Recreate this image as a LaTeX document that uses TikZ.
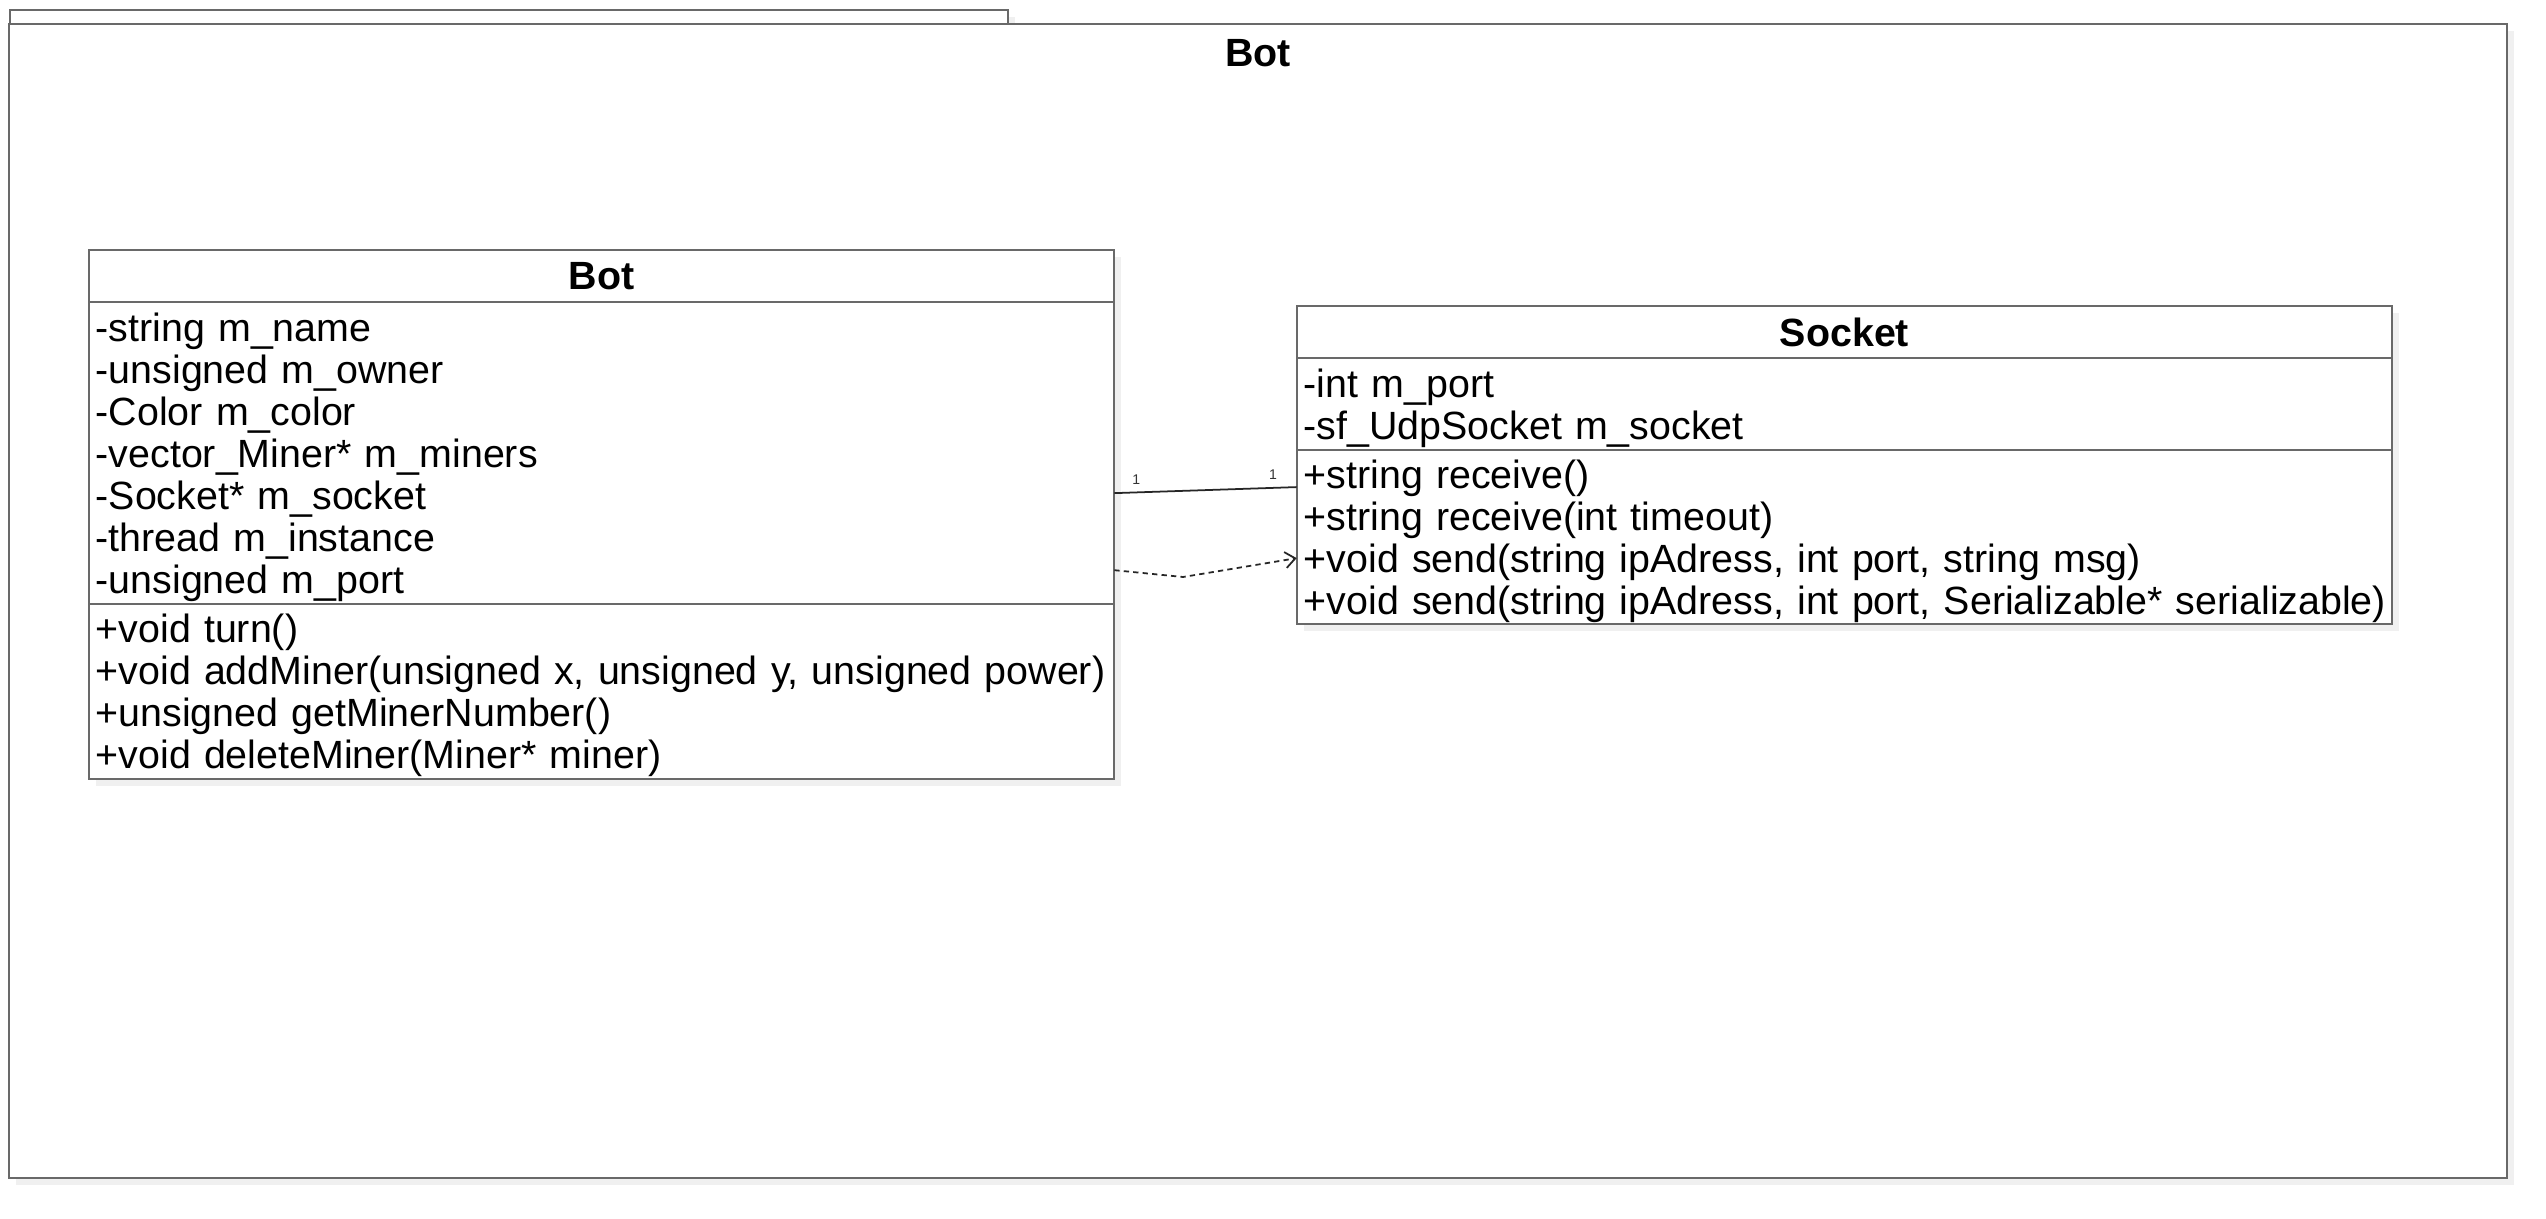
\documentclass[tikz,border=0pt]{standalone}
\usepackage{fontspec}
\setmainfont{Liberation Sans}
\usetikzlibrary{positioning,shadows,arrows.meta}
\definecolor{umlline}{RGB}{105,105,105}
\definecolor{umlshadow}{RGB}{240,240,240}
\newcommand{\longrow}[1]{\leavevmode\rlap{#1}}
\tikzset{
	boxshadow/.style={general shadow={fill=umlshadow,shadow xshift=0.07cm,shadow yshift=-0.07cm}},
	pkgpart/.style={draw=umlline,line width=0.6pt,fill=white,boxshadow,inner sep=0pt,outer sep=0pt},
	classhead/.style={draw=umlline,line width=0.6pt,fill=white,boxshadow,minimum height=0.52cm,inner sep=0pt,outer sep=0pt,font=\fontsize{11.2}{11.95}\selectfont\bfseries},
	classpart/.style={draw=umlline,line width=0.6pt,fill=white,boxshadow,inner xsep=0.07cm,inner ysep=0pt,outer sep=0pt,align=left,font=\fontsize{11.2}{11.95}\selectfont,execute at begin node={\rule{0pt}{10.4pt}}},
	mult/.style={font=\fontsize{4}{5}\selectfont,inner sep=0pt,text=black!80}
}
\begin{document}
\begin{tikzpicture}[x=0.01cm,y=-0.01cm]
	\useasboundingbox (0,0) rectangle (2546,1218);
	% package frame
	\node[pkgpart,minimum width=9.98cm,minimum height=0.14cm] (pkgTab) at (509,17) {};
	\node[pkgpart,minimum width=24.96cm,minimum height=11.54cm] (pkg) at (1258,601) {};
	\node[font=\fontsize{11.2}{11.95}\selectfont\bfseries] (pkgName) at (1258,53) {Bot};
	% class Bot
	\node[classhead,minimum width=10.25cm] (botHead) at (601.5,276) {Bot};
	\node[classpart,below=0pt of botHead,text width=10.11cm,minimum height=3.02cm] (botAttr) {-string m\_name\\-unsigned m\_owner\\-Color m\_color\\-vector\_Miner* m\_miners\\-Socket* m\_socket\\-thread m\_instance\\-unsigned m\_port};
	\node[classpart,below=0pt of botAttr,text width=10.11cm,minimum height=1.75cm] (botOps) {+void turn()\\\longrow{+void addMiner(unsigned x, unsigned y, unsigned power)}\\+unsigned getMinerNumber()\\+void deleteMiner(Miner* miner)};
	% class Socket
	\node[classhead,minimum width=10.95cm] (sockHead) at (1844.5,332) {Socket};
	\node[classpart,below=0pt of sockHead,text width=10.81cm,minimum height=0.92cm] (sockAttr) {-int m\_port\\-sf\_UdpSocket m\_socket};
	\node[classpart,below=0pt of sockAttr,text width=10.81cm,minimum height=1.74cm] (sockOps) {+string receive()\\+string receive(int timeout)\\+void send(string ipAdress, int port, string msg)\\\longrow{+void send(string ipAdress, int port, Serializable* serializable)}};
	% links
	\coordinate (bend) at (1183,577);
	\draw[black!85,line width=0.5pt] ([yshift=-0.40cm]botAttr.east) -- node[mult,pos=0.12,above=0.07cm] (multBot) {1} node[mult,pos=0.87,above=0.07cm] (multSock) {1} ([yshift=0.5cm]sockOps.west);
	\draw[black!85,line width=0.5pt,dash pattern=on 1.5pt off 1.2pt,-{Straight Barb[length=0.1cm,width=0.16cm]}] ([yshift=-1.17cm]botAttr.east) -- (bend) -- ([yshift=-0.21cm]sockOps.west);
\end{tikzpicture}
\end{document}
